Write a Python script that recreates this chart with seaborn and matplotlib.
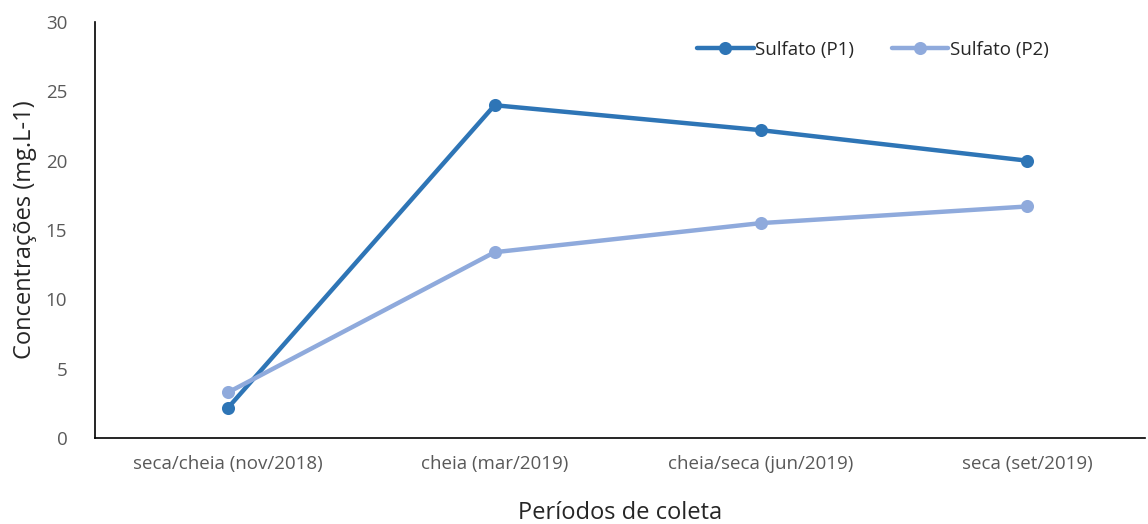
import pandas as pd
import matplotlib.pyplot as plt
import seaborn as sns

periodos = ["seca/cheia (nov/2018)", "cheia (mar/2019)", "cheia/seca (jun/2019)", "seca (set/2019)"]
sulfato_p1 = [2.2, 24.0, 22.2, 20.0]
sulfato_p2 = [3.3, 13.4, 15.5, 16.7]

df = pd.DataFrame({
    "periodo": periodos * 2,
    "valor": sulfato_p1 + sulfato_p2,
    "serie": ["Sulfato (P1)"] * 4 + ["Sulfato (P2)"] * 4,
})

sns.set_style("white")
plt.rcParams["font.family"] = ["Open Sans", "DejaVu Sans"]

fig = plt.figure(figsize=(11.48, 5.24), dpi=100)
ax = fig.add_axes([0.0828, 0.164, 0.9142, 0.794])

sns.pointplot(data=df, x="periodo", y="valor", hue="serie",
              palette=["#2E75B6", "#8FAADC"], markers="o",
              markersize=7, linewidth=3.2, ax=ax)

ax.set_ylim(0, 30)
ax.set_xlim(-0.5, 3.44)
ax.set_yticks(range(0, 31, 5))
ax.tick_params(axis="both", length=0, labelsize=13.5, labelcolor="#595959")
ax.tick_params(axis="x", pad=12)
ax.tick_params(axis="y", pad=20)
ax.set_xlabel("Períodos de coleta", fontsize=17, color="#262626", labelpad=20)
ax.set_ylabel("Concentrações (mg.L-1)", fontsize=17, color="#262626", labelpad=6)

for s in ["top", "right"]:
    ax.spines[s].set_visible(False)
for s in ["left", "bottom"]:
    ax.spines[s].set_color("black")
    ax.spines[s].set_linewidth(1.2)

leg = ax.legend(loc="upper right", bbox_to_anchor=(0.925, 0.995), ncol=2,
                frameon=False, fontsize=13.5, handlelength=3.0,
                columnspacing=2.0, handletextpad=0.1)

fig.savefig("out.png", dpi=100)
